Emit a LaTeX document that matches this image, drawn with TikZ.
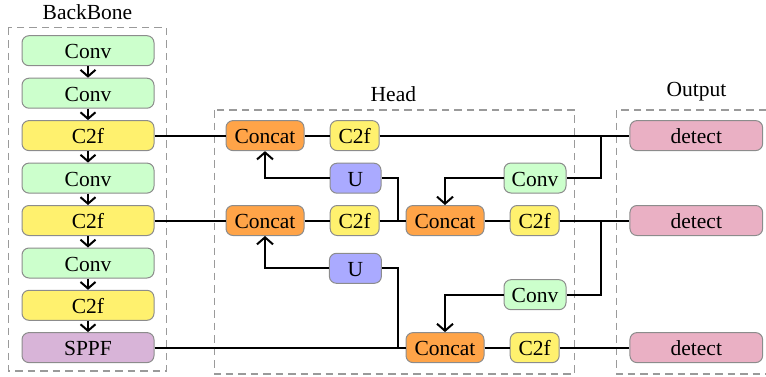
\documentclass[tikz,border=0pt]{standalone}
\usepackage{fontspec}
\setmainfont{Liberation Serif}
\usetikzlibrary{arrows.meta}

\definecolor{convc}{HTML}{CCFFCC}
\definecolor{c2fc}{HTML}{FFF16E}
\definecolor{catc}{HTML}{FFA448}
\definecolor{upc}{HTML}{AAAAFF}
\definecolor{sppfc}{HTML}{D8B4D8}
\definecolor{detc}{HTML}{EAB0C4}
\definecolor{edgec}{HTML}{8C8C8C}
\definecolor{framec}{HTML}{9A9A9A}

\begin{document}
\begin{tikzpicture}[x=1pt,y=-1pt,
  font=\fontsize{21.5}{24}\selectfont,
  blk/.style={draw=edgec, line width=1pt, rounded corners=7pt,
    minimum height=30pt, inner sep=0pt, text height=16.3pt, text depth=0pt},
  bbbox/.style={blk, minimum width=132pt},
  catbox/.style={blk, fill=catc, minimum width=78pt},
  smallbox/.style={blk, minimum width=49pt},
  convbox/.style={blk, fill=convc, minimum width=62pt},
  detbox/.style={blk, fill=detc, minimum width=132.7pt},
  frame/.style={draw=framec, line width=1.1pt, dash pattern=on 7.5pt off 5pt},
  wire/.style={draw=black, line width=2pt},
  bbarrow/.style={wire, -{Straight Barb[length=6.5pt,width=15pt]}},
  hdarrow/.style={wire, -{Straight Barb[length=7pt,width=16pt]}},
  title/.style={anchor=base}
]
\useasboundingbox (0,0) rectangle (766,376);
\clip (0,0) rectangle (766,376);

% group frames
\draw[frame] (8.3,27.7) rectangle (166.7,371);
\draw[frame] (214.7,110) rectangle (574.3,374);
\draw[frame] (616.7,110) rectangle (790,374);

\node[title] (tbb) at (87.5,19.3) {BackBone};
\node[title] (thd) at (393.4,101.7) {Head};
\node[title] (tout) at (696.5,96) {Output};

% backbone
\node[bbbox, fill=convc]  (b1) at (88,50.7)  {Conv};
\node[bbbox, fill=convc]  (b2) at (88,93.2)  {Conv};
\node[bbbox, fill=c2fc]   (b3) at (88,135.6) {C2f};
\node[bbbox, fill=convc]  (b4) at (88,178.1) {Conv};
\node[bbbox, fill=c2fc]   (b5) at (88,220.5) {C2f};
\node[bbbox, fill=convc]  (b6) at (88,263)   {Conv};
\node[bbbox, fill=c2fc]   (b7) at (88,305.3) {C2f};
\node[bbbox, fill=sppfc]  (b8) at (88,347.6) {SPPF};

% head
\node[catbox] (cat1) at (265,135.6) {Concat};
\node[smallbox, fill=c2fc] (h1) at (354.7,135.6) {C2f};
\node[smallbox, fill=upc, minimum width=51pt] (u1) at (355.5,178.2) {U};
\node[catbox] (cat2) at (265,220.5) {Concat};
\node[smallbox, fill=c2fc] (h2) at (354.7,220.5) {C2f};
\node[catbox] (cat3) at (445,220.5) {Concat};
\node[smallbox, fill=c2fc] (h3) at (534.7,220.5) {C2f};
\node[convbox] (cv1) at (535,178) {Conv};
\node[smallbox, fill=upc, minimum width=52pt] (u2) at (355.4,268.3) {U};
\node[convbox] (cv2) at (535,294.7) {Conv};
\node[catbox] (cat4) at (445,347.6) {Concat};
\node[smallbox, fill=c2fc] (h4) at (534.7,347.6) {C2f};

% outputs
\node[detbox] (d1) at (696.3,135.6) {detect};
\node[detbox] (d2) at (696.3,220.5) {detect};
\node[detbox] (d3) at (696.3,347.6) {detect};

% backbone chain
\foreach \a/\b in {b1/b2,b2/b3,b3/b4,b4/b5,b5/b6,b6/b7,b7/b8}
  \draw[bbarrow] (\a.south) -- (\b.north);

% branch points
\coordinate (j1) at (601,135.6);
\coordinate (j2) at (397.7,220.5);
\coordinate (j3) at (601,220.5);
\coordinate (j4) at (397.7,347.6);

% top row
\draw[wire] (b3.east) -- (cat1.west);
\draw[wire] (cat1.east) -- (h1.west);
\draw[wire] (h1.east) -- (d1.west);
\draw[wire] (j1) |- (cv1.east);
\draw[hdarrow] (cv1.west) -| (cat3.north);

% middle row
\draw[wire] (b5.east) -- (cat2.west);
\draw[wire] (cat2.east) -- (h2.west);
\draw[wire] (h2.east) -- (cat3.west);
\draw[wire] (j2) |- (u1.east);
\draw[hdarrow] (u1.west) -| (cat1.south);
\draw[wire] (cat3.east) -- (h3.west);
\draw[wire] (h3.east) -- (d2.west);
\draw[wire] (j3) |- (cv2.east);
\draw[hdarrow] (cv2.west) -| (cat4.north);

% bottom row
\draw[wire] (b8.east) -- (cat4.west);
\draw[wire] (j4) |- (u2.east);
\draw[hdarrow] (u2.west) -| (cat2.south);
\draw[wire] (cat4.east) -- (h4.west);
\draw[wire] (h4.east) -- (d3.west);
\end{tikzpicture}
\end{document}
